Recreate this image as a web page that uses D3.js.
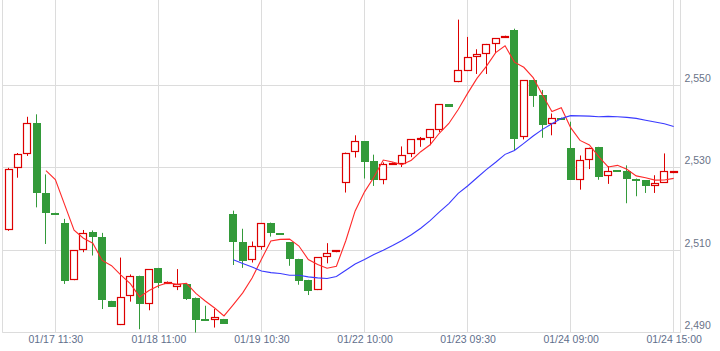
<!DOCTYPE html>
<html>
<head>
<meta charset="utf-8">
<script src="https://cdn.jsdelivr.net/npm/d3@7"></script>
<style>
  body { margin: 0; background: #fff; }
  text { font-family: "Liberation Sans", Arial, sans-serif; font-size: 10.5px; }
</style>
</head>
<body>
<div id="viz"></div>
<script>
const width = 720;
const height = 351;
const plot = { left: 2.5, right: 680.5, bottom: 332.5 };

// 30 min candles, 01/17 09:00 .. 01/24 15:00
const opens  = [2514.7,2529.8,2533.2,2540.9,2523.8,2519.1,2516.7,2502.7,2510.0,2514.3,2513.1,2497.7,2491.8,2498.8,2503.8,2496.9,2505.7,2502.1,2501.0,2501.8,2498.5,2493.3,2493.0,2493.3,2518.7,2512.1,2507.6,2510.8,2516.7,2514.1,2511.9,2507.9,2502.8,2500.3,2508.3,2509.5,2526.5,2533.7,2536.5,2531.6,2527.1,2531.0,2531.0,2533.2,2536.8,2537.2,2539.3,2545.5,2550.8,2553.5,2556.9,2557.6,2560.0,2561.7,2563.5,2537.4,2551.3,2547.7,2540.5,2542.2,2534.8,2527.1,2532.0,2535.1,2528.1,2529.4,2529.3,2527.4,2527.0,2525.7,2526.4,2528.7];
const highs  = [2530.0,2533.6,2542.4,2543.0,2528.4,2519.1,2517.6,2510.0,2514.9,2514.8,2514.2,2497.7,2508.2,2504.1,2503.8,2505.4,2505.7,2502.4,2505.4,2501.8,2498.5,2496.5,2495.7,2493.3,2519.6,2515.2,2512.1,2516.6,2516.7,2514.1,2511.9,2507.9,2502.8,2508.3,2511.7,2510.0,2533.7,2537.9,2536.5,2533.2,2531.3,2531.3,2535.2,2536.9,2537.5,2539.4,2545.5,2545.5,2566.0,2561.8,2558.8,2560.1,2561.5,2562.1,2563.8,2551.3,2551.3,2548.9,2543.2,2542.2,2541.2,2533.0,2534.9,2535.1,2530.4,2529.4,2530.6,2527.4,2527.0,2528.2,2533.5,2529.2];
const lows   = [2514.7,2527.6,2532.9,2520.4,2511.5,2518.7,2501.8,2502.7,2509.5,2508.7,2495.7,2496.3,2491.8,2497.5,2490.8,2495.4,2500.8,2502.0,2500.3,2497.9,2490.0,2492.9,2491.2,2492.1,2506.4,2505.7,2507.0,2510.1,2513.3,2513.9,2506.2,2501.6,2499.1,2500.3,2506.8,2509.5,2524.0,2532.5,2527.4,2525.6,2526.0,2530.9,2530.2,2532.6,2535.1,2535.5,2538.7,2544.8,2550.8,2553.5,2552.8,2552.8,2557.9,2561.7,2534.3,2536.9,2544.8,2537.3,2537.9,2541.8,2527.1,2524.7,2529.7,2527.1,2526.1,2529.0,2521.4,2523.1,2523.9,2523.9,2526.4,2528.7];
const closes = [2529.6,2533.3,2540.8,2523.9,2519.0,2518.7,2502.6,2510.0,2514.2,2513.0,2497.7,2496.3,2498.6,2503.7,2496.9,2505.4,2502.1,2502.3,2501.8,2498.2,2493.1,2492.9,2493.8,2492.1,2511.9,2507.4,2511.0,2516.6,2514.2,2513.9,2507.7,2502.6,2500.2,2508.3,2509.3,2510.0,2533.7,2536.4,2531.4,2527.0,2531.0,2531.2,2533.2,2536.9,2537.3,2539.4,2545.5,2544.8,2553.8,2556.9,2557.6,2560.1,2561.5,2562.1,2537.1,2551.3,2547.5,2540.4,2542.0,2541.8,2527.1,2532.0,2534.9,2527.8,2529.3,2529.0,2527.3,2526.8,2525.6,2526.4,2529.2,2529.2];

const tickIdx = [5, 16, 27, 38, 49, 60, 71];
const tickLabels = ["01/17 11:30", "01/18 11:00", "01/19 10:30", "01/22 10:00", "01/23 09:30", "01/24 09:00", "01/24 15:00"];
const yTicks = [2490, 2510, 2530, 2550];
const maPeriods = [5, 25];
const maColors = ["#ff2a2a", "#3a3aff"];

const upColor = "#dd0000";
const downColor = "#339a3a";
const gridColor = "#dcdcdc";

const candles = opens.map((o, i) => ({ i: i, o: o, h: highs[i], l: lows[i], c: closes[i] }));

const xScale = d3.scaleLinear()
    .domain([0, candles.length - 1])
    .range([8.5, 673.7]);

const yScale = d3.scaleLinear()
    .domain([2490, 2550])
    .range([332.5, 85.5]);

const crisp = v => Math.floor(v) + 0.5;

const svg = d3.select('#viz')
    .append('svg')
        .attr('width', width)
        .attr('height', height)
        .attr('viewBox', [0, 0, width, height]);

// grid
svg.append('g')
    .selectAll('line')
    .data(yTicks)
    .join('line')
        .attr('x1', plot.left)
        .attr('x2', plot.right)
        .attr('y1', d => crisp(yScale(d)))
        .attr('y2', d => crisp(yScale(d)))
        .attr('stroke', gridColor);

svg.append('g')
    .selectAll('line')
    .data(tickIdx)
    .join('line')
        .attr('x1', d => crisp(xScale(d)))
        .attr('x2', d => crisp(xScale(d)))
        .attr('y1', 0)
        .attr('y2', plot.bottom)
        .attr('stroke', gridColor);

// frame
svg.append('path')
    .attr('d', `M${plot.left},0V${plot.bottom}H${plot.right}V0`)
    .attr('fill', 'none')
    .attr('stroke', gridColor);

// axis labels
const xAxis = svg.append('g')
    .attr('transform', `translate(0, ${plot.bottom})`)
    .call(d3.axisBottom(xScale)
        .tickValues(tickIdx)
        .tickFormat((d, i) => tickLabels[i])
        .tickSize(0)
        .tickPadding(3));
xAxis.select('.domain').remove();
xAxis.selectAll('text')
    .attr('fill', '#5f6f8c')
    .style('font-family', '"Liberation Sans", Arial, sans-serif')
    .style('font-size', '10.5px');

const yAxis = svg.append('g')
    .attr('transform', `translate(${plot.right + 4}, 0)`)
    .call(d3.axisRight(yScale)
        .tickValues(yTicks)
        .tickFormat(d3.format(','))
        .tickSize(0)
        .tickPadding(0));
yAxis.select('.domain').remove();
yAxis.selectAll('text')
    .attr('dy', '-4')
    .attr('fill', '#6a7388')
    .style('font-family', '"Liberation Sans", Arial, sans-serif')
    .style('font-size', '10.5px');

// candles
const candle = svg.append('g')
    .selectAll('g')
    .data(candles)
    .join('g');

candle.append('line')
    .attr('x1', d => crisp(xScale(d.i)))
    .attr('x2', d => crisp(xScale(d.i)))
    .attr('y1', d => yScale(d.h))
    .attr('y2', d => yScale(d.l))
    .attr('stroke', d => d.c >= d.o ? upColor : downColor);

candle.filter(d => d.c < d.o)
    .append('rect')
        .attr('x', d => Math.round(xScale(d.i)) - 4)
        .attr('width', 8)
        .attr('y', d => Math.round(yScale(d.o)))
        .attr('height', d => Math.max(2, Math.round(yScale(d.c) - yScale(d.o))))
        .attr('fill', downColor);

candle.filter(d => d.c >= d.o)
    .append('rect')
        .attr('x', d => Math.round(xScale(d.i)) - 3.5)
        .attr('width', 7)
        .attr('y', d => Math.round(yScale(d.c)) + 0.5)
        .attr('height', d => Math.max(1, Math.round(yScale(d.o) - yScale(d.c)) - 1))
        .attr('fill', '#fff')
        .attr('stroke', upColor)
        .attr('stroke-width', 1.2);

// moving averages of close
maPeriods.forEach((p, k) => {
    const ma = [];
    for (let i = p - 1; i < closes.length; i++) {
        ma.push({ i: i, v: d3.mean(closes.slice(i - p + 1, i + 1)) });
    }
    const line = d3.line()
        .x(d => xScale(d.i))
        .y(d => yScale(d.v));
    svg.append('path')
        .datum(ma)
        .attr('d', line)
        .attr('fill', 'none')
        .attr('stroke', maColors[k])
        .attr('stroke-width', 1.1);
});
</script>
</body>
</html>
